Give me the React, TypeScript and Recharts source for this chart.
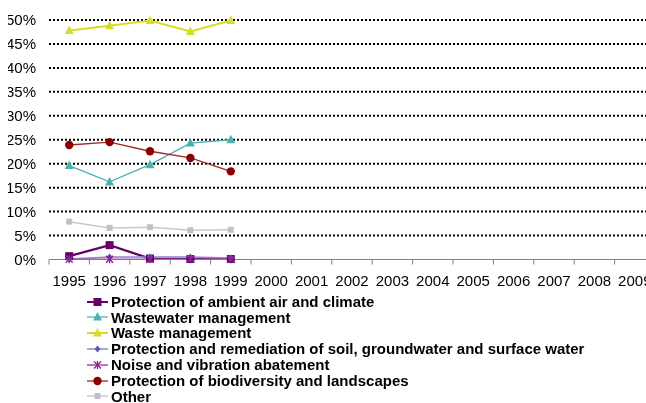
import React from "react";
import { LineChart, Line, XAxis, YAxis, CartesianGrid } from "recharts";

const years = ["1995","1996","1997","1998","1999","2000","2001","2002","2003","2004","2005","2006","2007","2008","2009"];
const airClimate = [0.7, 3.0, 0.2, 0.1, 0.1];
const wastewater = [19.6, 16.2, 19.8, 24.3, 25.0];
const waste = [47.8, 48.8, 49.9, 47.6, 49.9];
const soilWater = [0.1, 0.5, 0.5, 0.5, 0.3];
const noise = [0.05, 0.05, 0.05, 0.05, 0.05];
const biodiversity = [23.9, 24.5, 22.6, 21.2, 18.4];
const other = [7.9, 6.6, 6.75, 6.1, 6.2];
const yTicks = [0, 5, 10, 15, 20, 25, 30, 35, 40, 45, 50];
const gridValues = [5, 10, 15, 20, 25, 30, 35, 40, 45, 50];

const FONT = "'Liberation Sans', Arial, sans-serif";

type SeriesDef = { key: string; name: string; values: number[]; stroke: string; marker: string; fill: string; width: number };

const series: SeriesDef[] = [
  { key: "air", name: "Protection of ambient air and climate", values: airClimate, stroke: "#660066", fill: "#660066", marker: "square", width: 2.2 },
  { key: "wastewater", name: "Wastewater management", values: wastewater, stroke: "#4DB0B0", fill: "#4DB0B0", marker: "triangle", width: 1.3 },
  { key: "waste", name: "Waste management", values: waste, stroke: "#D6DC28", fill: "#D6DC28", marker: "triangle", width: 2 },
  { key: "soil", name: "Protection and remediation of soil, groundwater and surface water", values: soilWater, stroke: "#8888CC", fill: "#5A5AB0", marker: "diamond", width: 1.5 },
  { key: "noise", name: "Noise and vibration abatement", values: noise, stroke: "#B040B0", fill: "#8A2090", marker: "star", width: 1.5 },
  { key: "bio", name: "Protection of biodiversity and landscapes", values: biodiversity, stroke: "#A02828", fill: "#8B0000", marker: "circle", width: 1.3 },
  { key: "other", name: "Other", values: other, stroke: "#C8C8D4", fill: "#C0C0CC", marker: "smallsquare", width: 1.5 },
];

const data = years.map((y, i) => {
  const row: Record<string, number | null> = { x: i };
  series.forEach((s) => {
    row[s.key] = i < s.values.length ? s.values[i] : null;
  });
  return row;
});

function Marker({ type, cx, cy, fill }: { type: string; cx: number; cy: number; fill: string }) {
  if (cx == null || cy == null || isNaN(cx) || isNaN(cy)) return null;
  switch (type) {
    case "square":
      return <rect x={cx - 4} y={cy - 4} width={8} height={8} fill={fill} />;
    case "smallsquare":
      return <rect x={cx - 3} y={cy - 3} width={6} height={6} fill={fill} />;
    case "triangle":
      return <polygon points={`${cx},${cy - 5} ${cx + 4.5},${cy + 3.5} ${cx - 4.5},${cy + 3.5}`} fill={fill} />;
    case "diamond":
      return <polygon points={`${cx},${cy - 3.5} ${cx + 3},${cy} ${cx},${cy + 3.5} ${cx - 3},${cy}`} fill={fill} />;
    case "star":
      return (
        <g stroke={fill} strokeWidth={1.3}>
          <line x1={cx - 3.5} y1={cy - 3.5} x2={cx + 3.5} y2={cy + 3.5} />
          <line x1={cx - 3.5} y1={cy + 3.5} x2={cx + 3.5} y2={cy - 3.5} />
          <line x1={cx} y1={cy - 4} x2={cx} y2={cy + 4} />
        </g>
      );
    case "circle":
      return <circle cx={cx} cy={cy} r={4.2} fill={fill} />;
    default:
      return null;
  }
}

const BAND = 40.4;

function XTick(props: any) {
  const { x, y, payload } = props;
  const idx = Math.round(payload.value + 0.5);
  if (idx < 0 || idx >= years.length) return null;
  return (
    <text x={x + BAND / 2} y={y + 19.5} textAnchor="middle" fontFamily={FONT} fontSize={15} fill="#000">
      {years[idx]}
    </text>
  );
}

const xTicks = Array.from({ length: years.length + 1 }, (_, i) => i - 0.5);

export default function App() {
  return (
    <div style={{ position: "fixed", left: 8, top: 8, width: 638, height: 395, overflow: "hidden", fontFamily: FONT }}>
      <LineChart width={660} height={290} data={data} margin={{ top: 12, right: 13, left: 0, bottom: 0 }}>
        <CartesianGrid horizontal vertical={false} horizontalValues={gridValues} stroke="#000" strokeDasharray="2 2" strokeWidth={2} />
        <XAxis
          dataKey="x"
          type="number"
          domain={[-0.5, 14.5]}
          ticks={xTicks}
          interval={0}
          allowDataOverflow
          height={38.5}
          tickSize={5}
          stroke="#808080"
          tickLine={{ stroke: "#808080" }}
          axisLine={{ stroke: "#808080" }}
          tick={<XTick />}
        />
        <YAxis
          type="number"
          domain={[0, 50]}
          ticks={yTicks}
          interval={0}
          width={41}
          tickLine={false}
          axisLine={false}
          tickSize={6}
          tickMargin={7}
          tickFormatter={(v: number) => `${v}%`}
          tick={{ fill: "#000", fontSize: 15, fontFamily: FONT }}
        />
        {series.map((s) => (
          <Line
            key={s.key}
            dataKey={s.key}
            name={s.name}
            stroke={s.stroke}
            strokeWidth={s.width}
            isAnimationActive={false}
            connectNulls={false}
            activeDot={false}
            dot={(p: any) => <Marker key={`${s.key}-${p.index}`} type={s.marker} cx={p.cx} cy={p.cy} fill={s.fill} />}
          />
        ))}
      </LineChart>
      <div style={{ position: "absolute", left: 79, top: 285.8 }}>
        {series.map((s) => (
          <div key={s.key} style={{ display: "flex", alignItems: "center", height: 15.8 }}>
            <svg width={21} height={12} style={{ marginRight: 3 }}>
              <line x1={0} y1={6} x2={21} y2={6} stroke={s.stroke} strokeWidth={Math.min(s.width, 2)} />
              <Marker type={s.marker} cx={10.5} cy={6} fill={s.fill} />
            </svg>
            <span style={{ fontWeight: "bold", fontSize: 15, fontFamily: FONT, color: "#000", whiteSpace: "nowrap", lineHeight: "15.8px" }}>
              {s.name}
            </span>
          </div>
        ))}
      </div>
    </div>
  );
}
